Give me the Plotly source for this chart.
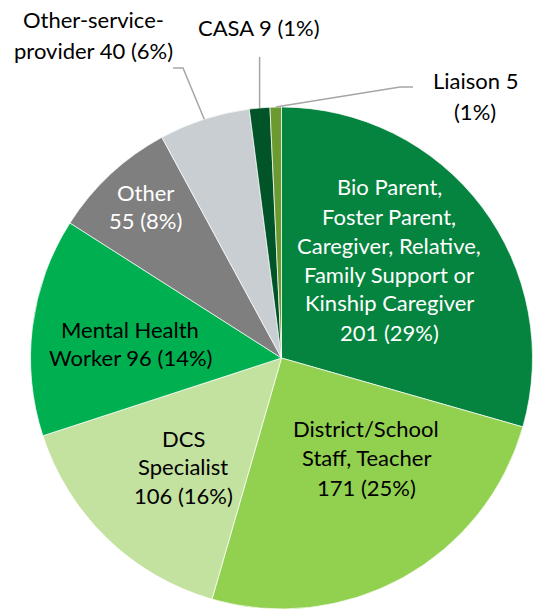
import math
import plotly.graph_objects as go

# ---- data ----
labels = [
    "Bio Parent,<br>Foster Parent,<br>Caregiver, Relative,<br>Family Support or<br>Kinship Caregiver",
    "District/School<br>Staff, Teacher",
    "DCS<br>Specialist",
    "Mental Health<br>Worker",
    "Other",
    "Other-service-<br>provider",
    "CASA",
    "Liaison",
]
values = [201, 171, 106, 96, 55, 40, 9, 5]
colors = ["#04843e", "#92d050", "#c3e2a0", "#00b050", "#7f7f7f", "#c8ced2", "#005428", "#6b9b30"]

W, H = 533, 609
FONT = "Lato"
FS = 22

# pie geometry in pixels
left, right, top, bottom = 30, 533, 107, 609
cx = (left + right) / 2
cy = (top + bottom) / 2
r = min(right - left, bottom - top) / 2


def px(x):
    return x / W


def py(y):
    return 1 - y / H


total = sum(values)
pcts = [round(v / total * 100) for v in values]

fig = go.Figure(go.Pie(
    labels=[l.replace("<br>", " ") for l in labels],
    values=values,
    sort=False,
    direction="clockwise",
    rotation=0,
    marker=dict(colors=colors, line=dict(color="white", width=0.7)),
    textinfo="none",
    hoverinfo="label+value+percent",
    showlegend=False,
    domain=dict(x=[px(left), px(right)], y=[py(bottom), py(top)]),
))


def lines_for(i):
    parts = labels[i].split("<br>")
    tail = f"{values[i]} ({pcts[i]}%)"
    return parts, tail


text_lines = {}
p, t = lines_for(0); text_lines[0] = p + [t]
p, t = lines_for(1); text_lines[1] = p + [t]
p, t = lines_for(2); text_lines[2] = p + [t]
p, t = lines_for(3); text_lines[3] = [p[0], p[1] + " " + t]
p, t = lines_for(4); text_lines[4] = p + [t]
p, t = lines_for(5); text_lines[5] = [p[0], p[1] + " " + t]
p, t = lines_for(6); text_lines[6] = [p[0] + " " + t]
p, t = lines_for(7); text_lines[7] = [p[0] + " " + str(values[7]), f"({pcts[7]}%)"]

# layout positions (pixels): center x, first line y, line step, colour
pos = {
    0: (389, 187, 29, "white"),
    1: (366, 428, 29.5, "black"),
    2: (183, 438, 28.5, "black"),
    3: (130, 329, 28.5, "black"),
    4: (145, 192, 28, "white"),
    5: (93, 20, 30, "black"),
    6: (259, 28, 29, "black"),
    7: (475, 80, 31, "black"),
}

annotations = []
for i, lines in text_lines.items():
    x0, y0, step, col = pos[i]
    for k, ln in enumerate(lines):
        annotations.append(dict(
            x=px(x0), y=py(y0 + k * step), xref="paper", yref="paper",
            text=ln, showarrow=False, xanchor="center", yanchor="middle",
            font=dict(family=FONT, size=FS, color=col),
        ))

# leader lines from slice mid-angles
cum = 0
mids = []
for v in values:
    mids.append((cum + v / 2) / total * 2 * math.pi)
    cum += v


def anchor(i):
    a = mids[i]
    return cx + r * math.sin(a), cy - r * math.cos(a)


shapes = []
LC = "#a6a6a6"
ax, ay = anchor(5)
shapes.append(dict(type="path", xref="paper", yref="paper",
                   path=f"M {px(ax)},{py(ay)} L {px(183)},{py(68)} L {px(173)},{py(68)}",
                   line=dict(color=LC, width=1.5)))
ax, ay = anchor(6)
shapes.append(dict(type="path", xref="paper", yref="paper",
                   path=f"M {px(ax)},{py(ay)} L {px(ax)},{py(57)}",
                   line=dict(color=LC, width=1.5)))
ax, ay = anchor(7)
shapes.append(dict(type="path", xref="paper", yref="paper",
                   path=f"M {px(ax)},{py(ay)} L {px(400)},{py(87)} L {px(413)},{py(87)}",
                   line=dict(color=LC, width=1.5)))

fig.update_layout(
    width=W, height=H,
    margin=dict(l=0, r=0, t=0, b=0),
    paper_bgcolor="white", plot_bgcolor="white",
    annotations=annotations, shapes=shapes,
    font=dict(family=FONT, size=FS),
)

fig.write_html("out.html", config={"displayModeBar": False},
               post_script="document.body.style.margin='0';document.body.style.overflow='hidden';")
